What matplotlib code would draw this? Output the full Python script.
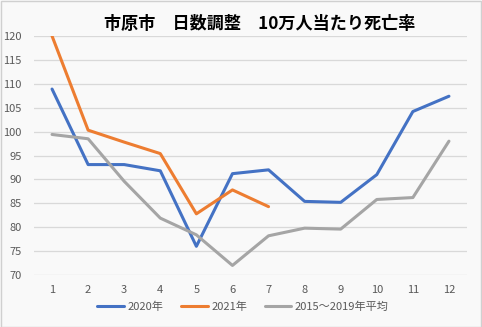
import matplotlib
matplotlib.use("Agg")
import matplotlib.pyplot as plt
from matplotlib.patches import Rectangle

plt.rcParams['font.family'] = ['Noto Sans CJK JP', 'DejaVu Sans']

months = [1, 2, 3, 4, 5, 6, 7, 8, 9, 10, 11, 12]
y2020 = [108.9, 93.1, 93.1, 91.8, 76.0, 91.2, 92.0, 85.4, 85.2, 91.0, 104.2, 107.4]
y2021 = [120.0, 100.3, 97.8, 95.4, 82.8, 87.8, 84.3]
yavg = [99.4, 98.5, 89.6, 81.9, 78.4, 72.0, 78.2, 79.8, 79.6, 85.8, 86.2, 98.0]
labels = ['2020年', '2021年', '2015～2019年平均']
colors = ['#4472C4', '#ED7D31', '#A5A5A5']
title = '市原市\u3000日数調整\u300010万人当たり死亡率'
yticks = [70, 75, 80, 85, 90, 95, 100, 105, 110, 115, 120]

W, H = 482, 327
fig = plt.figure(figsize=(W / 100, H / 100), dpi=100)
fig.patch.set_facecolor('#f9f9f9')
fig.patches.append(Rectangle((0.5 / W, 0.5 / H), 1 - 1.5 / W, 1 - 1.5 / H,
                             transform=fig.transFigure, fill=False,
                             edgecolor='#d0d0d0', linewidth=1))

ax = fig.add_axes([34 / W, 1 - 275 / H, (467 - 34) / W, (275 - 36) / H])
ax.set_facecolor('#f9f9f9')
for s in ax.spines.values():
    s.set_visible(False)

ax.plot(months, y2020, color=colors[0], lw=2.2, label=labels[0], solid_capstyle='round')
ax.plot(months[:len(y2021)], y2021, color=colors[1], lw=2.2, label=labels[1], solid_capstyle='round')
ax.plot(months, yavg, color=colors[2], lw=2.2, label=labels[2], solid_capstyle='round')

ax.set_xlim(0.5, 12.5)
ax.set_ylim(70, 120)
ax.set_yticks(yticks)
ax.set_xticks(months)
ax.set_xticklabels([str(m) for m in months])
ax.yaxis.grid(True, color='#d9d9d9', lw=0.9)
ax.set_axisbelow(True)
ax.tick_params(axis='both', length=0, labelsize=8, labelcolor='#595959')
ax.tick_params(axis='y', pad=9)
ax.tick_params(axis='x', pad=7)

fig.text(260 / W, 1 - 24 / H, title, ha='center', va='center',
         fontsize=12.3, fontweight='bold', color='black')

leg = fig.legend(loc='center', bbox_to_anchor=(243 / W, 1 - 307 / H), ncol=3,
                 frameon=False, fontsize=8, handlelength=2.4, columnspacing=1.6,
                 handletextpad=0.3)
for t in leg.get_texts():
    t.set_color('#595959')

fig.savefig('out.png', dpi=100, facecolor=fig.get_facecolor())
